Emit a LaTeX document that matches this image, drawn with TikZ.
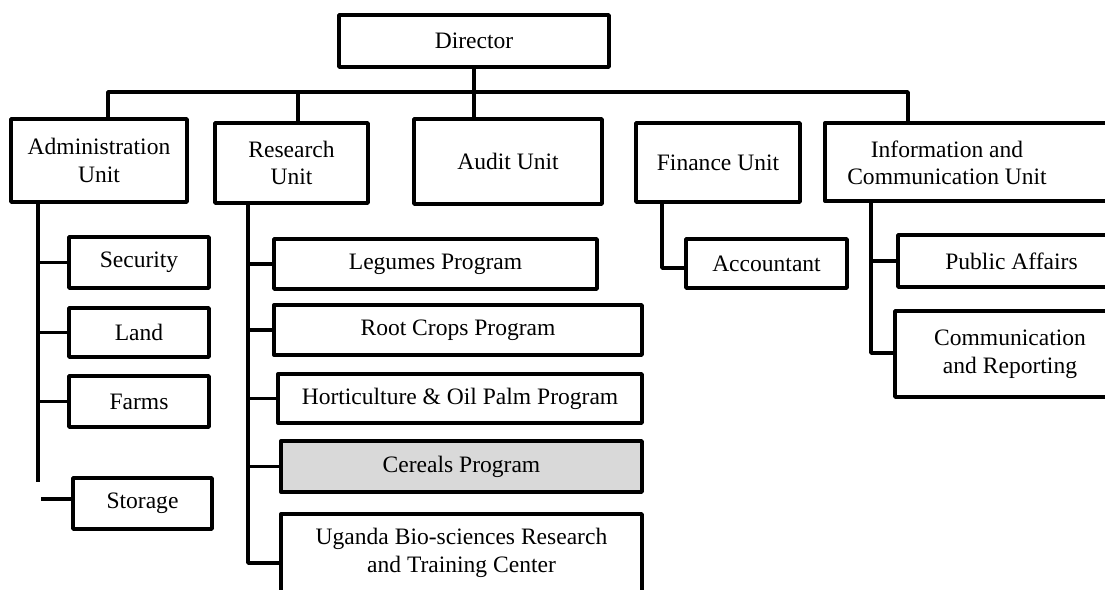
\documentclass[tikz,border=0pt]{standalone}
\usepackage{fontspec}
\setmainfont{Liberation Serif}
\usetikzlibrary{calc}

\begin{document}
\begin{tikzpicture}[x=0.02cm, y=-0.02cm, line width=2pt, line join=round, font=\fontsize{13.4}{15.7}\selectfont]
    \tikzstyle{unit}=[draw, black, rectangle, align=center, inner sep=0pt]
    \tikzstyle{boxtext}=[align=center, inner sep=0pt]

    \useasboundingbox (0,0) rectangle (1105,589);
    \clip (0,0) rectangle (1105,589);

    % Draw the top node
    \node[unit, minimum width=5.40cm, minimum height=1.04cm] (dir) at (474,41) {Director};

    % Draw the units
    \node[unit, minimum width=3.52cm, minimum height=1.66cm] (adm) at (99,160.5) {Administration\\Unit};
    \node[unit, minimum width=3.06cm, minimum height=1.60cm] (res) at (291.5,163) {Research\\Unit};
    \node[unit, minimum width=3.76cm, minimum height=1.70cm] (aud) at (508,161.5) {Audit Unit};
    \node[unit, minimum width=3.28cm, minimum height=1.58cm] (fin) at (718,162.5) {Finance Unit};
    \node[unit, minimum width=6.00cm, minimum height=1.56cm] (info) at (975,162) {};
    \node[boxtext] (info-t) at (947,163) {Information and\\Communication Unit};

    % Draw the administration sections
    \node[unit, minimum width=2.80cm, minimum height=1.02cm] (sec) at (139,262.5) {Security};
    \node[unit, minimum width=2.80cm, minimum height=0.98cm] (land) at (139,332.5) {Land};
    \node[unit, minimum width=2.80cm, minimum height=1.02cm] (farm) at (139,401.5) {Farms};
    \node[unit, minimum width=2.78cm, minimum height=1.02cm] (stor) at (142.5,503.5) {Storage};

    % Draw the research programs
    \node[unit, minimum width=6.46cm, minimum height=1.00cm] (leg) at (435.5,264) {Legumes Program};
    \node[unit, minimum width=7.36cm, minimum height=1.00cm] (root) at (458,330) {Root Crops Program};
    \node[unit, minimum width=7.28cm, minimum height=0.98cm] (hort) at (460,398.5) {Horticulture \& Oil Palm Program};
    \node[unit, fill=black!15, minimum width=7.22cm, minimum height=1.02cm] (cer) at (461.5,466.5) {Cereals Program};
    \node[unit, minimum width=7.22cm, minimum height=1.56cm] (uga) at (461.5,553) {Uganda Bio-sciences Research\\and Training Center};

    % Draw the finance and information sections
    \node[unit, minimum width=3.22cm, minimum height=0.98cm] (acc) at (766.5,263.5) {Accountant};
    \node[unit, minimum width=4.54cm, minimum height=1.04cm] (pub) at (1011.5,261) {Public Affairs};
    \node[unit, minimum width=4.60cm, minimum height=1.72cm] (comm) at (1010,354) {Communication\\and Reporting};

    % Connect the director with the units
    \coordinate (bus-l) at (108,92);
    \coordinate (bus-m) at (298,92);
    \coordinate (bus-r) at (908,92);
    \draw (dir.south) -- (dir.south |- aud.north);
    \draw (bus-l |- adm.north) -- (bus-l) -- (bus-r) -- (bus-r |- info.north);
    \draw (bus-m) -- (bus-m |- res.north);

    % Connect the administration sections
    \coordinate (adm-s) at (38,482);
    \coordinate (stor-e) at (41,499);
    \draw (adm-s |- adm.south) -- (adm-s);
    \foreach \dest in {sec, land, farm}
    \draw (adm-s |- \dest.west) -- (\dest.west);
    \draw (stor-e) -- (stor-e -| stor.west);

    % Connect the research programs
    \coordinate (res-s) at (248,563);
    \draw (res-s |- res.south) -- (res-s) -- (res-s -| uga.west);
    \foreach \dest in {leg, root, hort, cer}
    \draw (res-s |- \dest.west) -- (\dest.west);

    % Connect the finance and information sections
    \coordinate (fin-s) at (662,268);
    \coordinate (info-s) at (871,353);
    \draw (fin-s |- fin.south) -- (fin-s) -- (fin-s -| acc.west);
    \draw (info-s |- info.south) -- (info-s) -- (info-s -| comm.west);
    \draw (info-s |- pub.west) -- (pub.west);
\end{tikzpicture}
\end{document}
